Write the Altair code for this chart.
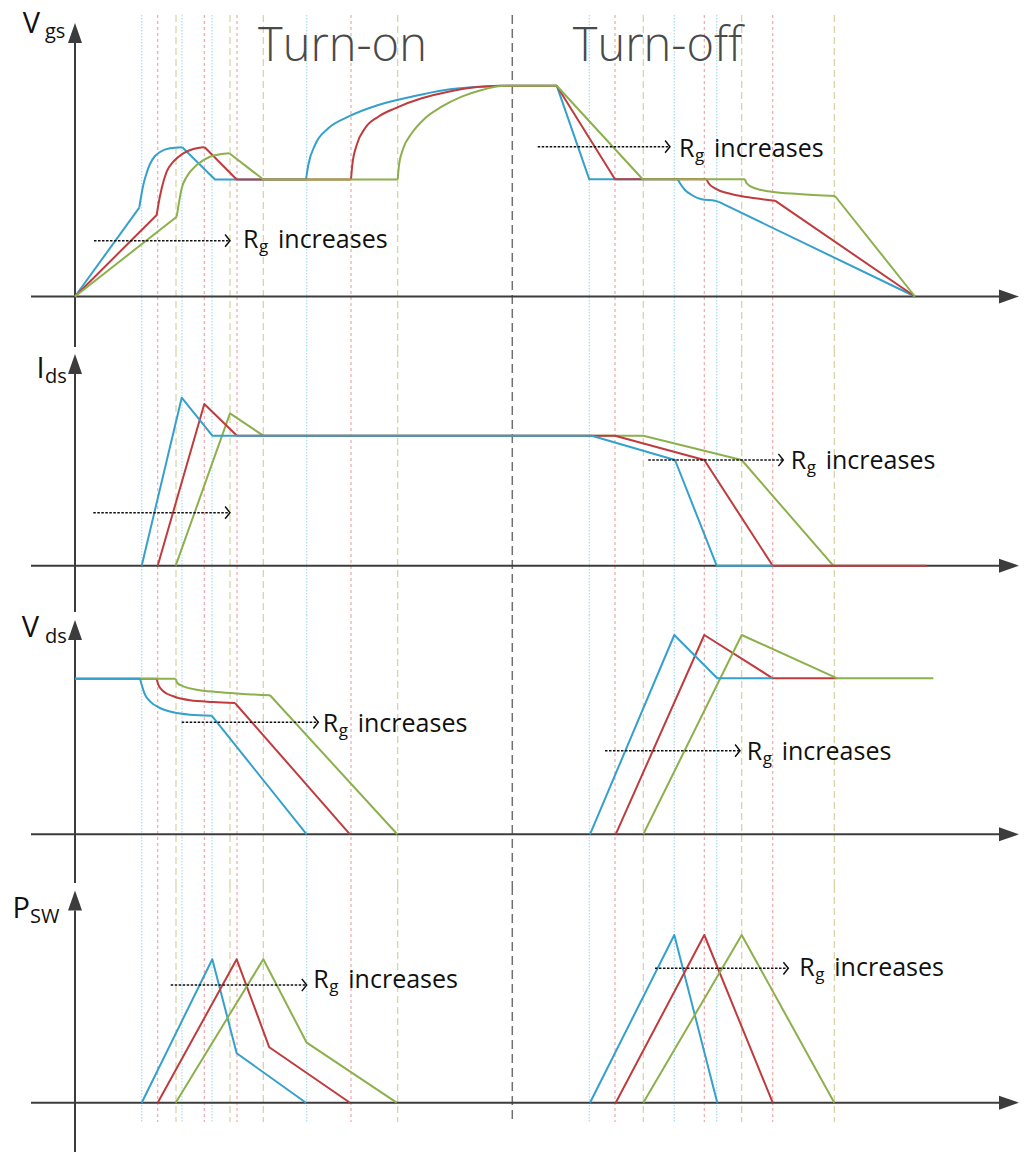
import altair as alt
import pandas as pd

# ---------------------------------------------------------------- styling
FONT = "Open Sans"
BLUE, RED, GREEN = "#35a0cc", "#bf3b3d", "#8cb04c"
AXIS_COLOR = "#3c3c3c"
GUIDE_STYLE = {
    "blue": ("#a9dcef", [1.5, 1.5], 1.2),
    "red": ("#eca3a3", [3, 3], 1.1),
    "green": ("#d3d2a2", [7, 4], 1.2),
    "gray": ("#707070", [9, 5], 1.5),
}
SERIES_COLOR = {"blue": BLUE, "red": RED, "green": GREEN}

# time axis (arbitrary units, 0 = origin of each waveform)
T_DOMAIN = [-75, 954]
# panel name, height, value-domain (0 = time axis of that panel)
PANELS = [
    ("vgs", 350, [-53.5, 296.5]),
    ("ids", 265, [-49.3, 215.7]),
    ("vds", 271, [-51.7, 219.3]),
    ("psw", 267, [-50.3, 216.7]),
]
# drawing order of the three Rg cases in each panel (last = on top)
DRAW_ORDER = {
    "vgs": ["blue", "red", "green"],
    "ids": ["green", "red", "blue"],
    "vds": ["red", "green", "blue"],
    "psw": ["blue", "red", "green"],
}

# ---------------------------------------------------------------- waveforms (t, value)
VGS_BLUE = [
    ("lin", [(0, 0), (64.3, 88.8)]),
    ("curve", [(64.3, 88.8), (66, 99.5), (68.3, 111.5), (71, 121.5), (75, 132.5), (80, 140.5),
               (85, 144.5), (95, 148.2), (107.3, 149.2)]),
    ("lin", [(107.3, 149.2), (140, 117), (231, 117)]),
    ("curve", [(231, 117), (233.3, 131.5), (240, 151.5), (253.3, 168.2), (273.3, 179.8),
               (303.3, 191.5), (336.7, 199.8), (370, 206.5), (403.3, 209.8), (426.7, 210.8)]),
    ("lin", [(426.7, 210.8), (481.7, 210.8), (514.3, 117.2), (602.7, 117.2)]),
    ("curve", [(602.7, 117.2), (605, 113.2), (610, 106.5), (616.7, 101.5), (626.7, 97.2),
               (640, 95.8), (643.3, 94.8)]),
    ("lin", [(643.3, 94.8), (840, 0)]),
]
VGS_RED = [
    ("lin", [(0, 0), (81.7, 81.5)]),
    ("curve", [(81.7, 81.5), (83.3, 91.5), (86.7, 108.2), (91.7, 124.8), (98.3, 134.8),
               (108.3, 143.2), (118.3, 147.5), (129.7, 149.2)]),
    ("lin", [(129.7, 149.2), (161.7, 117), (276, 117)]),
    ("curve", [(276, 117), (277.3, 131.5), (281.7, 151.5), (290, 168.2), (303.3, 179.8),
               (320, 188.2), (346.7, 198.2), (373.3, 204.8), (400, 209.2), (426.7, 210.8)]),
    ("lin", [(426.7, 210.8), (481.7, 210.8), (540, 117.2), (631.7, 117.2)]),
    ("curve", [(631.7, 117.2), (633.3, 113.8), (640, 108.2), (653.3, 103.2), (673.3, 99.2),
               (700, 95.8)]),
    ("lin", [(700, 95.8), (840, 0)]),
]
VGS_GREEN = [
    ("lin", [(0, 0), (101.7, 79.8)]),
    ("curve", [(101.7, 79.8), (103.3, 89.8), (106.7, 108.2), (111.7, 119.8), (121.7, 131.5),
               (135, 139.8), (145, 142.2), (154.3, 143.2)]),
    ("lin", [(154.3, 143.2), (188.3, 117), (322.7, 117)]),
    ("curve", [(322.7, 117), (324, 131.5), (328.3, 148.2), (336.7, 163.2), (350, 178.2),
               (366.7, 189.8), (386.7, 199.8), (406.7, 206.5), (426.7, 210.5), (440, 210.8)]),
    ("lin", [(440, 210.8), (481.7, 210.8), (567.7, 117.2), (670, 117.2)]),
    ("curve", [(670, 117.2), (671.7, 113.2), (680, 108.2), (696.7, 104.8), (723.3, 102.5),
               (760, 100.5)]),
    ("lin", [(760, 100.5), (840, 0)]),
]

IDS_BLUE = [("lin", [(66.7, 0), (106.7, 168), (137.3, 130), (516.7, 130), (600, 105.7),
                     (641.7, 0), (697.7, 0)])]
IDS_RED = [("lin", [(82.7, 0), (129.3, 161.7), (162, 130), (540, 130), (629.3, 105.7),
                    (697.7, 0), (851.7, 0)])]
IDS_GREEN = [("lin", [(100.7, 0), (155, 152.4), (188.3, 130), (568.3, 130), (666.7, 105.7),
                      (758.3, 0)])]

VDS_BLUE = [
    ("lin", [(0, 155.6), (65, 155.6)]),
    ("curve", [(65, 155.6), (66.7, 149.6), (70, 139.6), (75, 133), (85, 126.3), (98.3, 122),
               (115, 119.6), (136.7, 118.6)]),
    ("lin", [(136.7, 118.6), (231.7, 0)]),
    ("lin", [(515, 0), (599.3, 199.3), (642.3, 156), (697.7, 156)]),
]
VDS_RED = [
    ("lin", [(0, 155.6), (81.7, 155.6)]),
    ("curve", [(81.7, 155.6), (83.3, 149.6), (88.3, 143), (98.3, 138), (115, 134),
               (138.3, 132.3), (160, 131.3)]),
    ("lin", [(160, 131.3), (275, 0)]),
    ("lin", [(540.7, 0), (629.3, 199.3), (697.7, 156), (762.3, 156)]),
]
VDS_GREEN = [
    ("lin", [(0, 155.6), (100.7, 155.6)]),
    ("curve", [(100.7, 155.6), (102.3, 151.3), (108.3, 148), (121.7, 144.6), (141.7, 142.3),
               (165, 140.6), (195, 139)]),
    ("lin", [(195, 139), (322.3, 0)]),
    ("lin", [(568.3, 0), (666.7, 199.3), (762.3, 156), (858.3, 156)]),
]

PSW_BLUE = [("lin", [(66.7, 0), (137.3, 143.4), (161.7, 49.4), (231, 0)]),
            ("lin", [(515, 0), (599.3, 167.7), (642.3, 0)])]
PSW_RED = [("lin", [(82.7, 0), (161.7, 143.4), (194.3, 55.4), (275, 0)]),
           ("lin", [(540.7, 0), (629.3, 167.7), (697.7, 0)])]
PSW_GREEN = [("lin", [(100.7, 0), (188.3, 143.4), (231.7, 60), (321.7, 0)]),
             ("lin", [(568.3, 0), (666.7, 167.7), (759.3, 0)])]

SERIES = {
    "vgs": {"blue": VGS_BLUE, "red": VGS_RED, "green": VGS_GREEN},
    "ids": {"blue": IDS_BLUE, "red": IDS_RED, "green": IDS_GREEN},
    "vds": {"blue": VDS_BLUE, "red": VDS_RED, "green": VDS_GREEN},
    "psw": {"blue": PSW_BLUE, "red": PSW_RED, "green": PSW_GREEN},
}

# ---------------------------------------------------------------- guides (time instants)
GUIDE_BLUE = [66.7, 107, 137, 231.7, 514.3, 599.3, 641.7]
GUIDE_RED = [82.7, 129.3, 162, 276, 540, 629.3, 697.7]
GUIDE_GREEN = [101, 155, 188.3, 322.7, 568.3, 666.7, 759.3]
GUIDE_GRAY = [437.3]
# vertical extent of guides in each panel (top value, bottom value)
GUIDE_SPAN = {"vgs": (281.5, -53.5), "ids": (215.7, -49.3), "vds": (219.3, -51.7), "psw": (216.7, -19.3)}

# ---------------------------------------------------------------- axes
X_AXIS = (-44, 925, 934)  # line start, line end, arrow-head centre
Y_AXIS = {  # line top, line bottom, arrow-head centre
    "vgs": (253.5, -50.5, 263.5),
    "ids": (191.7, -46.3, 201.7),
    "vds": (194.3, -48.7, 204.3),
    "psw": (192.2, -49.3, 202.2),
}
AXIS_LABELS = {  # main, subscript, main t, main v, sub t, sub v
    "vgs": ("V", "gs", -52.3, 263.2, -30, 258.2),
    "ids": ("I", "ds", -38.5, 187.4, -30, 182.4),
    "vds": ("V", "ds", -53.3, 197.6, -30, 191.3),
    "psw": ("P", "SW", -62.5, 184.4, -45, 179.4),
}

# ---------------------------------------------------------------- annotations
ARROWS = [  # panel, t start, t end, value
    ("vgs", 19, 155, 55.8), ("vgs", 462.7, 595, 149.8),
    ("ids", 18.3, 155, 53), ("ids", 573.3, 708.3, 105.7),
    ("vds", 106.7, 243.3, 112), ("vds", 530, 665, 83.6),
    ("psw", 95.7, 231.7, 117.7), ("psw", 580, 713.3, 134.4),
]
RG_LABELS = [  # panel, t, value (baseline)
    ("vgs", 168, 48.2), ("vgs", 604, 139.5),
    ("ids", 715.7, 96.4),
    ("vds", 247.7, 102.6), ("vds", 671.7, 74.3),
    ("psw", 238.3, 114.4), ("psw", 724.3, 126.7),
]
TITLES = [("Turn-on", 267.5, 235.5), ("Turn-off", 582.5, 235.5)]  # in Vgs panel

# ---------------------------------------------------------------- build
xs = alt.Scale(domain=T_DOMAIN, nice=False, zero=False)
UP = "M-0.7,1L0.7,1L0,-1Z"
RIGHT = "M-1,-0.7L1,0L-1,0.7Z"
CHEVRON = "M-0.8,-1L0,0L-0.8,1"


def X(f):
    return alt.X(f"{f}:Q", scale=xs, axis=None)


def build_panel(name, height, ydom):
    ys = alt.Scale(domain=ydom, nice=False, zero=False)

    def Y(f):
        return alt.Y(f"{f}:Q", scale=ys, axis=None)

    layers = []
    top, bot = GUIDE_SPAN[name]
    for key, ts in (("blue", GUIDE_BLUE), ("red", GUIDE_RED), ("green", GUIDE_GREEN), ("gray", GUIDE_GRAY)):
        col, dash, w = GUIDE_STYLE[key]
        gd = pd.DataFrame({"t": ts, "v0": top, "v1": bot})
        layers.append(alt.Chart(gd).mark_rule(color=col, strokeDash=dash, strokeWidth=w)
                      .encode(x=X("t"), y=Y("v0"), y2=alt.Y2("v1")))

    # axes
    x0, x1, xa = X_AXIS
    layers.append(alt.Chart(pd.DataFrame({"t0": [x0], "t1": [x1], "v": [0]}))
                  .mark_rule(color=AXIS_COLOR, strokeWidth=2)
                  .encode(x=X("t0"), x2=alt.X2("t1"), y=Y("v")))
    layers.append(alt.Chart(pd.DataFrame({"t": [xa], "v": [0]}))
                  .mark_point(shape=RIGHT, filled=True, size=400, color=AXIS_COLOR, opacity=1, strokeWidth=0)
                  .encode(x=X("t"), y=Y("v")))
    ya, yb, yc = Y_AXIS[name]
    layers.append(alt.Chart(pd.DataFrame({"t": [0], "v0": [ya], "v1": [yb]}))
                  .mark_rule(color=AXIS_COLOR, strokeWidth=2)
                  .encode(x=X("t"), y=Y("v0"), y2=alt.Y2("v1")))
    layers.append(alt.Chart(pd.DataFrame({"t": [0], "v": [yc]}))
                  .mark_point(shape=UP, filled=True, size=400, color=AXIS_COLOR, opacity=1, strokeWidth=0)
                  .encode(x=X("t"), y=Y("v")))

    # waveforms
    for s in DRAW_ORDER[name]:
        rows = []
        for k, (kind, pts) in enumerate(SERIES[name][s]):
            for i, (t, v) in enumerate(pts):
                rows.append({"seg": f"{s}{k}", "kind": kind, "i": i, "t": t, "v": v})
        df = pd.DataFrame(rows)
        for kind, interp in (("lin", "linear"), ("curve", "monotone")):
            sub = df[df.kind == kind]
            if len(sub) == 0:
                continue
            layers.append(alt.Chart(sub).mark_line(color=SERIES_COLOR[s], strokeWidth=2,
                                                   interpolate=interp, strokeJoin="round")
                          .encode(x=X("t"), y=Y("v"), detail="seg:N", order="i:Q"))

    # dotted "Rg increases" arrows
    ad = pd.DataFrame([a[1:] for a in ARROWS if a[0] == name], columns=["t0", "t1", "v"])
    layers.append(alt.Chart(ad).mark_rule(color="#111111", strokeDash=[2.5, 1.5], strokeWidth=1.5)
                  .encode(x=X("t0"), x2=alt.X2("t1"), y=Y("v")))
    layers.append(alt.Chart(ad).mark_point(shape=CHEVRON, filled=False, size=150, color="#111111",
                                           opacity=1, strokeWidth=1.5)
                  .encode(x=X("t1"), y=Y("v")))

    ld = pd.DataFrame([l[1:] for l in RG_LABELS if l[0] == name], columns=["t", "v"])
    if len(ld):
        base = alt.Chart(ld)
        layers.append(base.mark_text(text="R", align="left", baseline="alphabetic", font=FONT,
                                     fontSize=25, color="#111111")
                      .encode(x=X("t"), y=Y("v")))
        layers.append(base.mark_text(text="g", align="left", baseline="alphabetic", font=FONT,
                                     fontSize=17, dx=16, dy=4, color="#111111")
                      .encode(x=X("t"), y=Y("v")))
        layers.append(base.mark_text(text="increases", align="left", baseline="alphabetic", font=FONT,
                                     fontSize=25, dx=35, color="#111111")
                      .encode(x=X("t"), y=Y("v")))

    # axis label with subscript
    m, sub, mt, mv, st, sv = AXIS_LABELS[name]
    lab = pd.DataFrame({"txt": [m, sub], "t": [mt, st], "v": [mv, sv], "size": [29, 20]})
    layers.append(alt.Chart(lab.iloc[[0]]).mark_text(align="left", baseline="alphabetic", font=FONT,
                                                    fontSize=29, color="#111111")
                  .encode(x=X("t"), y=Y("v"), text="txt:N"))
    layers.append(alt.Chart(lab.iloc[[1]]).mark_text(align="left", baseline="alphabetic", font=FONT,
                                                    fontSize=20, color="#111111")
                  .encode(x=X("t"), y=Y("v"), text="txt:N"))

    if name == "vgs":
        td = pd.DataFrame(TITLES, columns=["txt", "t", "v"])
        layers.append(alt.Chart(td).mark_text(align="center", baseline="alphabetic", font=FONT,
                                              fontSize=47, fontWeight=300, color="#4a4a4a")
                      .encode(x=X("t"), y=Y("v"), text="txt:N"))

    return alt.layer(*layers).properties(width=1029, height=height)


panels = [build_panel(n, h, d) for n, h, d in PANELS]
chart = (alt.vconcat(*panels, spacing=0, bounds="flush")
         .resolve_scale(y="independent", x="shared")
         .configure_view(stroke=None)
         .properties(padding=0, background="white"))

chart.save("out.html", embed_options={"renderer": "svg", "actions": False})
